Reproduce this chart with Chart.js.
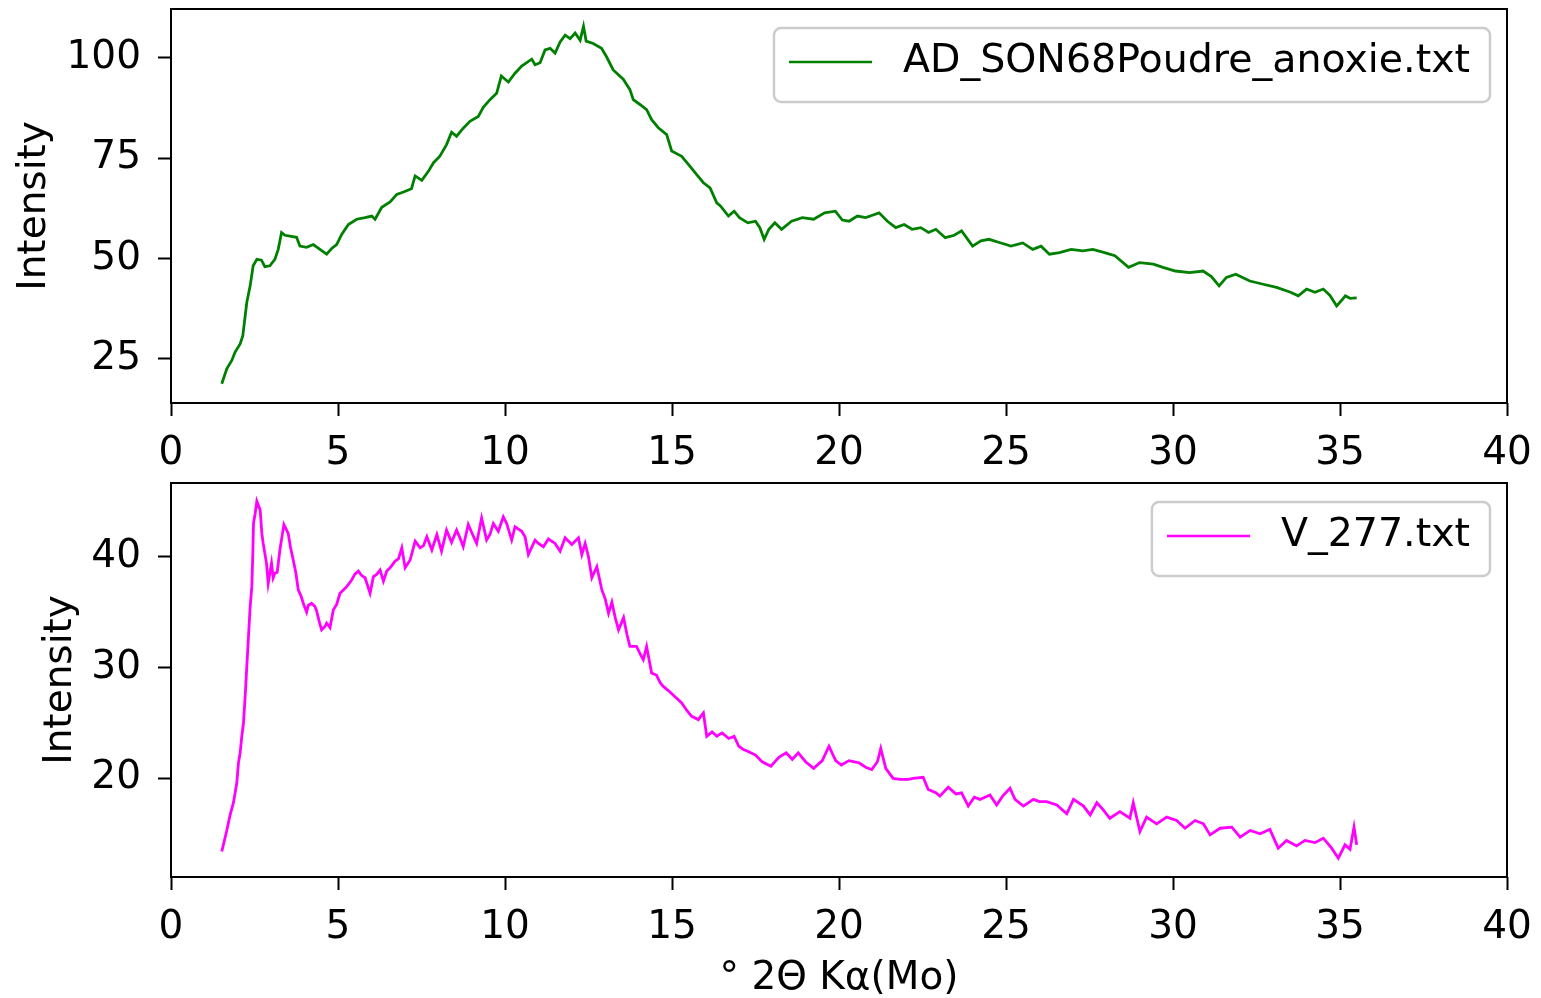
<!DOCTYPE html>
<html>
<head>
<meta charset="utf-8">
<script src="https://cdn.jsdelivr.net/npm/chart.js@4.4.1/dist/chart.umd.min.js"></script>
<style>
  body { margin: 0; background: #fff; width: 1541px; height: 998px; overflow: hidden; position: relative; }
  canvas { position: absolute; left: 0; }
  #top-chart { top: 0; }
  #bottom-chart { top: 470px; }
</style>
</head>
<body>
<canvas id="top-chart" width="1541" height="470"></canvas>
<canvas id="bottom-chart" width="1541" height="528"></canvas>
<script>
const xTicks = [0, 5, 10, 15, 20, 25, 30, 35, 40];
const topYTicks = [25, 50, 75, 100];
const bottomYTicks = [20, 30, 40];

const topLabel = "AD_SON68Poudre_anoxie.txt";
const topX = [1.52, 1.67, 1.82, 1.92, 2.07, 2.15, 2.27, 2.37, 2.46, 2.57, 2.71, 2.81, 2.96, 3.11, 3.21, 3.31, 3.41, 3.56, 3.76, 3.86,
  4.06, 4.26, 4.46, 4.66, 4.81, 4.96, 5.11, 5.31, 5.56, 5.81, 6.01, 6.11, 6.31, 6.56, 6.76, 6.96, 7.2, 7.31, 7.51, 7.71,
  7.86, 8.05, 8.25, 8.4, 8.55, 8.75, 8.95, 9.2, 9.35, 9.55, 9.75, 9.89, 10.1, 10.3, 10.5, 10.8, 10.9, 11.05, 11.2, 11.35,
  11.5, 11.65, 11.8, 11.95, 12.1, 12.25, 12.35, 12.43, 12.64, 12.89, 13.04, 13.24, 13.54, 13.74, 13.84, 14.04, 14.24, 14.39, 14.59, 14.84,
  14.99, 15.29, 15.54, 15.74, 15.94, 16.14, 16.34, 16.45, 16.69, 16.86, 17.02, 17.27, 17.5, 17.63, 17.76, 17.9, 18.08, 18.28, 18.58, 18.9,
  19.24, 19.57, 19.89, 20.1, 20.3, 20.55, 20.8, 21.0, 21.2, 21.45, 21.7, 21.95, 22.19, 22.45, 22.68, 22.9, 23.18, 23.45, 23.67, 24.0,
  24.25, 24.49, 24.8, 25.15, 25.5, 25.8, 26.05, 26.3, 26.6, 26.95, 27.3, 27.6, 27.95, 28.26, 28.67, 29.0, 29.41, 29.7, 30.07, 30.5,
  30.9, 31.15, 31.38, 31.6, 31.88, 32.3, 32.7, 33.1, 33.52, 33.75, 34.0, 34.25, 34.5, 34.7, 34.9, 35.05, 35.16, 35.3, 35.5];
const topY = [18.8, 22.5, 24.6, 26.7, 28.7, 30.8, 39.1, 43.2, 48.2, 49.8, 49.6, 48.0, 48.2, 49.8, 52.3, 56.5, 55.8, 55.6, 55.3, 53.1,
  52.8, 53.5, 52.3, 51.1, 52.5, 53.5, 56.0, 58.5, 59.8, 60.2, 60.6, 59.8, 62.8, 64.1, 66.0, 66.6, 67.4, 70.6, 69.5, 71.8,
  73.9, 75.5, 78.4, 81.5, 80.5, 82.5, 84.2, 85.4, 87.7, 89.6, 91.2, 95.5, 94.0, 96.2, 98.0, 99.7, 98.3, 98.8, 102.0, 102.4,
  101.2, 104.0, 105.7, 104.8, 106.2, 104.4, 107.9, 104.2, 103.6, 102.4, 100.3, 97.0, 94.7, 92.1, 89.6, 88.4, 87.1, 84.6, 82.6, 80.9,
  76.8, 75.5, 73.0, 70.9, 68.9, 67.6, 63.9, 63.1, 60.6, 61.8, 60.2, 58.9, 59.3, 57.7, 54.8, 57.3, 58.9, 57.3, 59.3, 60.2,
  59.8, 61.4, 61.8, 59.6, 59.3, 60.6, 60.2, 60.8, 61.4, 59.3, 57.7, 58.5, 57.3, 57.7, 56.5, 57.3, 55.2, 55.8, 56.9, 53.1,
  54.4, 54.8, 54.0, 53.1, 53.9, 52.3, 53.1, 51.1, 51.5, 52.3, 51.9, 52.3, 51.5, 50.7, 47.8, 49.0, 48.6, 47.8, 46.9, 46.5,
  46.9, 45.5, 43.2, 45.3, 46.1, 44.4, 43.6, 42.8, 41.6, 40.7, 42.4, 41.6, 42.4, 40.8, 38.2, 39.6, 40.7, 40.1, 40.2];

const bottomLabel = "V_277.txt";
const bottomX = [1.52, 1.67, 1.77, 1.87, 1.97, 2.02, 2.07, 2.12, 2.17, 2.22, 2.27, 2.32, 2.37, 2.42, 2.45, 2.47, 2.52, 2.57, 2.67, 2.72,
  2.76, 2.86, 2.91, 3.01, 3.06, 3.11, 3.18, 3.26, 3.38, 3.51, 3.58, 3.66, 3.74, 3.81, 3.9, 3.96, 4.06, 4.11, 4.21, 4.31,
  4.36, 4.45, 4.51, 4.61, 4.66, 4.76, 4.86, 4.96, 5.06, 5.16, 5.26, 5.41, 5.5, 5.61, 5.71, 5.81, 5.96, 6.06, 6.16, 6.26,
  6.36, 6.46, 6.56, 6.71, 6.81, 6.91, 7.01, 7.16, 7.31, 7.46, 7.56, 7.66, 7.81, 7.96, 8.1, 8.25, 8.4, 8.55, 8.65, 8.75,
  8.9, 9.0, 9.15, 9.3, 9.45, 9.55, 9.65, 9.8, 9.95, 10.05, 10.2, 10.3, 10.5, 10.6, 10.7, 10.9, 11.0, 11.15, 11.3, 11.5,
  11.65, 11.8, 12.0, 12.2, 12.3, 12.4, 12.5, 12.6, 12.75, 12.9, 13.0, 13.1, 13.2, 13.3, 13.4, 13.55, 13.65, 13.74, 13.94, 14.05,
  14.14, 14.24, 14.39, 14.54, 14.65, 14.74, 14.9, 15.04, 15.15, 15.29, 15.45, 15.59, 15.79, 15.86, 15.94, 16.04, 16.2, 16.34, 16.5, 16.7,
  16.86, 17.0, 17.14, 17.3, 17.5, 17.7, 17.96, 18.2, 18.42, 18.6, 18.78, 19.0, 19.24, 19.5, 19.7, 19.9, 20.07, 20.3, 20.6, 20.8,
  20.98, 21.15, 21.25, 21.4, 21.62, 21.83, 22.08, 22.22, 22.52, 22.67, 22.9, 23.02, 23.27, 23.5, 23.67, 23.87, 24.05, 24.22, 24.52, 24.72,
  24.9, 25.12, 25.27, 25.52, 25.82, 26.0, 26.22, 26.52, 26.82, 27.02, 27.32, 27.52, 27.72, 27.9, 28.11, 28.41, 28.71, 28.81, 29.01, 29.21,
  29.51, 29.81, 30.11, 30.36, 30.66, 30.91, 31.11, 31.41, 31.76, 32.01, 32.31, 32.61, 32.9, 33.15, 33.4, 33.7, 33.95, 34.25, 34.5, 34.75,
  34.95, 35.15, 35.3, 35.42, 35.5];
const bottomY = [13.4, 15.3, 16.7, 17.8, 19.6, 21.4, 22.3, 23.8, 25.0, 27.4, 30.1, 32.8, 35.5, 37.3, 40.3, 43.0, 43.9, 45.0, 44.2, 42.1,
  41.2, 39.4, 37.6, 39.4, 38.1, 38.5, 38.6, 40.6, 42.9, 42.1, 40.8, 39.7, 38.5, 37.0, 36.4, 35.8, 35.0, 35.6, 35.8, 35.5,
  35.1, 34.0, 33.4, 33.7, 34.0, 33.6, 35.2, 35.7, 36.7, 37.0, 37.3, 37.9, 38.4, 38.7, 38.3, 38.1, 36.7, 38.2, 38.4, 38.8,
  37.8, 38.7, 39.0, 39.6, 39.8, 40.8, 39.0, 39.7, 41.4, 40.8, 41.0, 41.8, 40.6, 42.0, 40.5, 42.4, 41.3, 42.4, 41.7, 40.9,
  42.9, 42.2, 41.2, 43.5, 41.5, 42.0, 43.0, 42.3, 43.6, 43.0, 41.5, 42.7, 42.3, 41.8, 40.2, 41.5, 41.2, 40.9, 41.6, 41.2,
  40.5, 41.7, 41.1, 41.7, 40.2, 41.2, 40.0, 38.1, 39.1, 37.0, 36.2, 34.9, 35.9, 34.5, 33.4, 34.5, 33.0, 31.9, 31.9, 31.2,
  30.7, 31.9, 29.5, 29.3, 28.6, 28.3, 27.9, 27.5, 27.2, 26.8, 26.1, 25.6, 25.3, 25.6, 25.9, 23.8, 24.2, 23.8, 24.1, 23.6,
  23.8, 22.9, 22.6, 22.4, 22.1, 21.5, 21.1, 21.9, 22.3, 21.7, 22.3, 21.5, 20.9, 21.6, 22.9, 21.6, 21.2, 21.6, 21.4, 21.0,
  20.8, 21.5, 22.7, 20.9, 20.0, 19.9, 19.9, 20.0, 20.1, 19.0, 18.7, 18.4, 19.2, 18.6, 18.7, 17.5, 18.3, 18.1, 18.5, 17.6,
  18.4, 19.1, 18.1, 17.5, 18.1, 17.9, 17.9, 17.6, 16.8, 18.1, 17.5, 16.7, 17.8, 17.2, 16.4, 17.0, 16.4, 17.8, 15.2, 16.5,
  15.9, 16.5, 16.2, 15.5, 16.2, 15.9, 14.9, 15.5, 15.6, 14.7, 15.3, 15.0, 15.4, 13.7, 14.4, 13.9, 14.4, 14.2, 14.6, 13.7,
  12.8, 14.0, 13.6, 15.6, 14.0];

const FONT = "DejaVu Sans";
const FONT_SIZE = 39;
const LEGEND_FONT_SIZE = 39.5;

// black box round the plot area, like matplotlib spines
const framePlugin = {
  id: "frame",
  afterDraw(chart) {
    const { ctx, chartArea } = chart;
    ctx.save();
    ctx.strokeStyle = "#000";
    ctx.lineWidth = 2;
    ctx.strokeRect(chartArea.left, chartArea.top, chartArea.right - chartArea.left, chartArea.bottom - chartArea.top);
    ctx.restore();
  },
};

// legend box in the upper right corner of the plot area
const legendPlugin = {
  id: "legendBox",
  afterDraw(chart) {
    const { ctx, chartArea } = chart;
    const ds = chart.data.datasets[0];
    ctx.save();
    ctx.font = `${LEGEND_FONT_SIZE}px "${FONT}"`;
    const tw = ctx.measureText(ds.label).width;
    const w = 15 + 83 + 31 + tw + 20;
    const h = 74;
    const right = chartArea.right - 17;
    const top = chartArea.top + 19;
    const left = right - w;
    ctx.beginPath();
    ctx.roundRect(left, top, w, h, 7);
    ctx.fillStyle = "rgba(255,255,255,0.8)";
    ctx.fill();
    ctx.strokeStyle = "#cccccc";
    ctx.lineWidth = 2.5;
    ctx.stroke();
    const cy = top + 34;
    ctx.strokeStyle = ds.borderColor;
    ctx.lineWidth = 2.5;
    ctx.beginPath();
    ctx.moveTo(left + 15, cy);
    ctx.lineTo(left + 98, cy);
    ctx.stroke();
    ctx.fillStyle = "#000";
    ctx.textBaseline = "middle";
    ctx.fillText(ds.label, left + 129, cy);
    ctx.restore();
  },
};

function noOverflow(scale) {
  scale.paddingTop = 0;
  scale.paddingBottom = 0;
  scale.paddingLeft = 0;
  scale.paddingRight = 0;
}

function makeChart(id, opts) {
  const tickFont = { family: FONT, size: FONT_SIZE };
  const data = opts.xs.map((x, i) => ({ x, y: opts.ys[i] }));
  return new Chart(document.getElementById(id), {
    type: "line",
    data: {
      datasets: [{
        label: opts.label,
        data,
        borderColor: opts.color,
        backgroundColor: opts.color,
        borderWidth: 2.8,
        pointRadius: 0,
        tension: 0,
      }],
    },
    options: {
      responsive: false,
      animation: false,
      devicePixelRatio: 1,
      layout: { padding: { top: opts.padTop, right: 34, left: 0, bottom: 0 } },
      plugins: { legend: { display: false }, tooltip: { enabled: false } },
      scales: {
        x: {
          type: "linear",
          min: 0,
          max: 40,
          afterBuildTicks: (scale) => { scale.ticks = xTicks.map((v) => ({ value: v })); },
          afterFit: (scale) => { scale.height = opts.xHeight; noOverflow(scale); },
          ticks: { color: "#000", font: tickFont, padding: 14, maxRotation: 0 },
          grid: { drawOnChartArea: false, drawTicks: true, tickLength: 13, tickWidth: 2, tickColor: "#000" },
          border: { display: false },
          title: {
            display: !!opts.xTitle,
            text: opts.xTitle || "",
            color: "#000",
            font: { family: FONT, size: FONT_SIZE, lineHeight: 1.0 },
            padding: { top: 0, bottom: 0 },
          },
        },
        y: {
          type: "linear",
          min: opts.yMin,
          max: opts.yMax,
          afterBuildTicks: (scale) => { scale.ticks = opts.yTicks.map((v) => ({ value: v })); },
          afterFit: (scale) => { scale.width = 171; noOverflow(scale); },
          ticks: { color: "#000", font: tickFont, padding: 17 },
          grid: { drawOnChartArea: false, drawTicks: true, tickLength: 13, tickWidth: 2, tickColor: "#000" },
          border: { display: false },
          title: {
            display: true,
            text: "Intensity",
            color: "#000",
            font: tickFont,
            padding: { top: opts.yTitlePad, bottom: 0 },
          },
        },
      },
    },
    plugins: [framePlugin, legendPlugin],
  });
}

makeChart("top-chart", {
  label: topLabel, xs: topX, ys: topY, color: "#008000",
  yMin: 14.0, yMax: 112.2, yTicks: topYTicks,
  padTop: 9, xHeight: 67, yTitlePad: 11,
});

makeChart("bottom-chart", {
  label: bottomLabel, xs: bottomX, ys: bottomY, color: "#ff00ff",
  yMin: 11.1, yMax: 46.65, yTicks: bottomYTicks,
  padTop: 13, xHeight: 121, yTitlePad: 37,
  xTitle: "° 2Θ Kα(Mo)",
});
</script>
</body>
</html>
